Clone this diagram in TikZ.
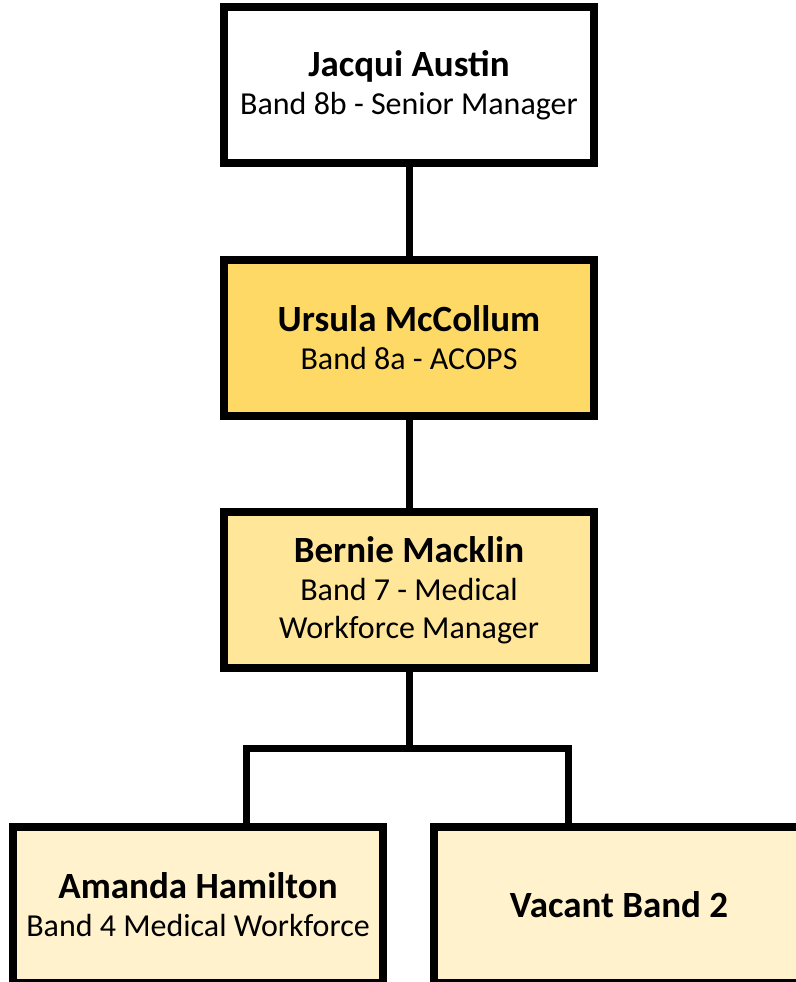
\documentclass[tikz,border=0pt]{standalone}
\usepackage{fontspec}
\setmainfont{Carlito}
\usepackage{tikz}
\usetikzlibrary{positioning}
\usepackage{xcolor}
\definecolor{goldfill}{HTML}{FFD966}
\definecolor{sandfill}{HTML}{FFE699}
\definecolor{creamfill}{HTML}{FFF2CC}
\newcommand{\orgtitle}[1]{{\fontsize{37}{38}\selectfont\bfseries #1}}
\pgfkeys{tikz/orgbox/.style={draw=black, line width=8pt, minimum width=370pt, minimum height=156pt, inner sep=4pt, align=center, font=\fontsize{32}{38}\selectfont}}
\pgfkeys{tikz/orgline/.style={draw=black, line width=7pt, line join=miter}}
\begin{document}
\begin{tikzpicture}[x=1pt, y=1pt]

	\useasboundingbox (0,0) rectangle (795,-982);

	\node [orgbox, fill=white] (jacqui) at (409,-85) {\orgtitle{Jacqui Austin}\\Band 8b - Senior Manager};
	\node [orgbox, fill=goldfill, below=89pt of jacqui] (ursula) {\orgtitle{Ursula McCollum}\\Band 8a - ACOPS};
	\node [orgbox, fill=sandfill, below=88pt of ursula] (bernie) {\orgtitle{Bernie Macklin}\\Band 7 - Medical\\Workforce Manager};

	\node [orgbox, fill=creamfill] (amanda) at (198,-905) {\orgtitle{Amanda Hamilton}\\Band 4 Medical Workforce};
	\node [orgbox, fill=creamfill] (vacant) at (619,-905) {\orgtitle{Vacant Band 2}};

	\coordinate (barL) at (246,-748);
	\coordinate (barR) at (568,-748);

	\draw [orgline] (jacqui) -- (ursula);
	\draw [orgline] (ursula) -- (bernie);
	\draw [orgline] (bernie.south) -- (bernie.south |- barL);
	\draw [orgline] (barL |- amanda.north) -- (barL) -- (barR) -- (barR |- vacant.north);

\end{tikzpicture}
\end{document}
